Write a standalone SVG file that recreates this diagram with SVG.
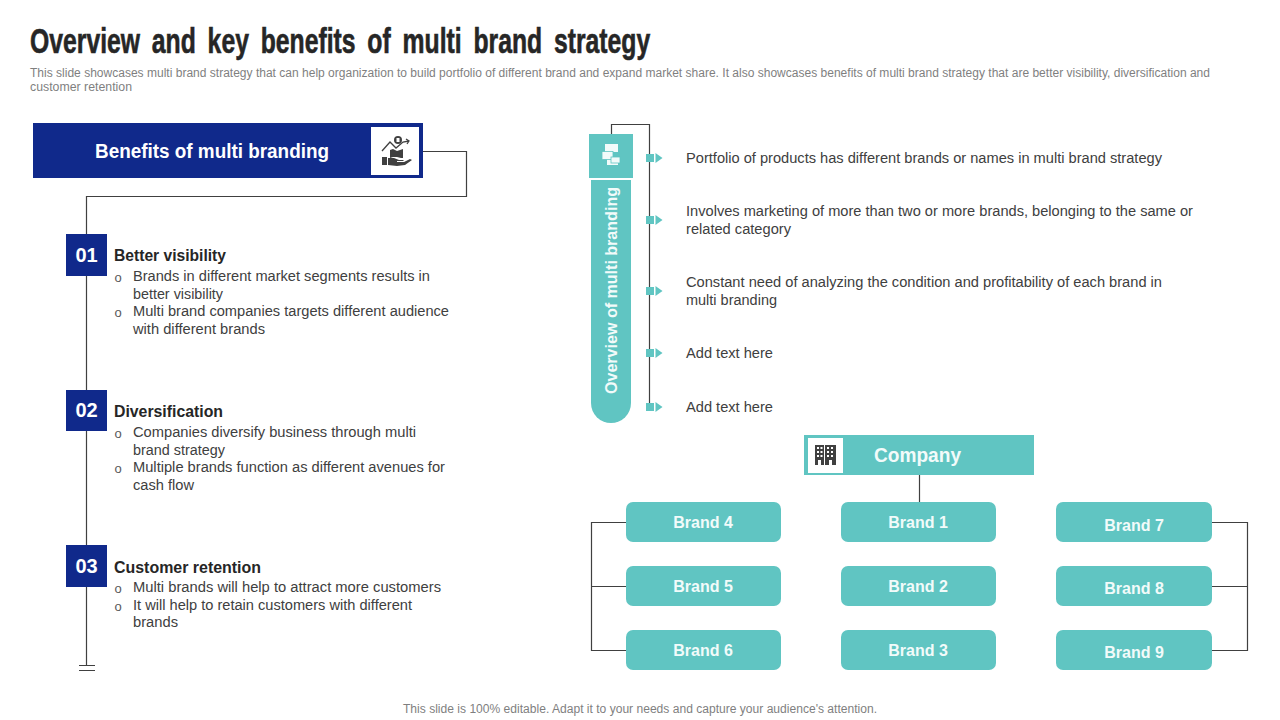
<svg xmlns="http://www.w3.org/2000/svg" width="1280" height="720" viewBox="0 0 1280 720">
<style>
text{font-family:"Liberation Sans",Arial,sans-serif}
.title{font-size:35px;font-weight:700;fill:#262626;stroke:#262626;stroke-width:.6;word-spacing:7px}
.sub{font-size:12px;fill:#7f7f7f}
.body{font-size:14.67px;fill:#404040}
.bul{font-size:13px;fill:#595959}
.head{font-size:16px;font-weight:700;fill:#262626}
.num{font-size:20px;font-weight:700;fill:#fff;text-anchor:middle}
.brand{font-size:16px;font-weight:700;fill:#f2fbfa;text-anchor:middle}
.teal{fill:#60c5c2}
.navy{fill:#10298b}
.ln{fill:none;stroke:#404040;stroke-width:1.2}
.icon{fill:#404040}
.foot{font-size:12px;fill:#7f7f7f;text-anchor:middle}
</style>
<defs>
<g id="tick"><rect x="0" y="-4" width="8" height="8" class="teal"/><path d="M9.500-5l7 5-7 5z" class="teal"/></g>
</defs>
<rect width="1280" height="720" fill="#fff"/>
<g id="header">
<text class="title" transform="translate(30 53) scale(.707 1)">Overview and key benefits of multi brand strategy</text>
<text class="sub" x="30" y="76.500" textLength="1180" lengthAdjust="spacingAndGlyphs">This slide showcases multi brand strategy that can help organization to build portfolio of different brand and expand market share. It also showcases benefits of multi brand strategy that are better visibility, diversification and</text>
<text class="sub" x="30" y="91" textLength="102" lengthAdjust="spacingAndGlyphs">customer retention</text>
</g>
<g id="connectors">
<path class="ln" d="M423 151.500H466.500V196.500H86.500V665"/>
<path class="ln" d="M79 665.500H95M79 670.500H95"/>
<path class="ln" d="M611.500 134V124.500H649.500V407"/>
<path class="ln" d="M919.500 475V502"/>
<path class="ln" d="M626 522.500H591.500V650.500H626M591.500 586.500H626"/>
<path class="ln" d="M1212 522.500H1247.500V650.500H1212M1247.500 586.500H1212"/>
</g>
<g id="benefits-header">
<rect class="navy" x="33" y="123" width="390" height="55"/>
<text x="212" y="158" font-size="20" font-weight="700" fill="#fff" text-anchor="middle" textLength="234" lengthAdjust="spacingAndGlyphs">Benefits of multi branding</text>
<rect x="371" y="127" width="48" height="48" fill="#fff"/>
<g class="icon">
<path d="M382 157h5v8h-5zM388 158h6l5 2h5l-1 1h-6v1h7l6-3 2 1-7 5-8 1-9-1z"/>
<path d="M390 150l3-1 4 2 6-2v9h-2l-4-1-4 0-3 1z"/>
<circle cx="398" cy="140" r="4"/>
<path d="M382 151l8-9 6 6 7-6 6-1M406 139l3 2-2 3" fill="none" stroke="#404040" stroke-width="1.300"/>
<path d="M396.500 138h3v4h-3z" fill="#fff"/>
</g>
</g>
<g id="item-01">
<rect class="navy" x="66" y="234" width="41" height="42"/>
<text class="num" x="86.500" y="262">01</text>
<text class="head" x="114" y="261" textLength="112" lengthAdjust="spacingAndGlyphs">Better visibility</text>
<text class="bul" x="114.500" y="282">o</text>
<text class="body" x="133" y="281" textLength="297" lengthAdjust="spacingAndGlyphs">Brands in different market segments results in</text>
<text class="body" x="133" y="299" textLength="90" lengthAdjust="spacingAndGlyphs">better visibility</text>
<text class="bul" x="114.500" y="317">o</text>
<text class="body" x="133" y="316" textLength="316" lengthAdjust="spacingAndGlyphs">Multi brand companies targets different audience</text>
<text class="body" x="133" y="334" textLength="132" lengthAdjust="spacingAndGlyphs">with different brands</text>
</g>
<g id="item-02">
<rect class="navy" x="66" y="390" width="41" height="41"/>
<text class="num" x="86.500" y="417">02</text>
<text class="head" x="114" y="417" textLength="109" lengthAdjust="spacingAndGlyphs">Diversification</text>
<text class="bul" x="114.500" y="438">o</text>
<text class="body" x="133" y="437" textLength="283" lengthAdjust="spacingAndGlyphs">Companies diversify business through multi</text>
<text class="body" x="133" y="455" textLength="92" lengthAdjust="spacingAndGlyphs">brand strategy</text>
<text class="bul" x="114.500" y="473">o</text>
<text class="body" x="133" y="472" textLength="312" lengthAdjust="spacingAndGlyphs">Multiple brands function as different avenues for</text>
<text class="body" x="133" y="490" textLength="61" lengthAdjust="spacingAndGlyphs">cash flow</text>
</g>
<g id="item-03">
<rect class="navy" x="66" y="545" width="41" height="42"/>
<text class="num" x="86.500" y="573">03</text>
<text class="head" x="114" y="573" textLength="147" lengthAdjust="spacingAndGlyphs">Customer retention</text>
<text class="bul" x="114.500" y="593">o</text>
<text class="body" x="133" y="592" textLength="308" lengthAdjust="spacingAndGlyphs">Multi brands will help to attract more customers</text>
<text class="bul" x="114.500" y="611">o</text>
<text class="body" x="133" y="610" textLength="279" lengthAdjust="spacingAndGlyphs">It will help to retain customers with different</text>
<text class="body" x="133" y="627" textLength="45" lengthAdjust="spacingAndGlyphs">brands</text>
</g>
<g id="overview-pill">
<path class="teal" d="M591 180H631V403a20 20 0 0 1-40 0z"/>
<rect class="teal" x="589" y="134" width="44" height="44"/>
<text transform="translate(617 394) rotate(-90)" font-size="16" font-weight="700" fill="#f2fbfa" textLength="207" lengthAdjust="spacingAndGlyphs">Overview of multi branding</text>
<path fill="#f2fbfa" d="M605 144h13v8h-13zM607 159h11v6h-11z"/>
<rect x="602" y="151.500" width="11" height="8" fill="#f2fbfa" stroke="#60c5c2" stroke-width=".8"/>
<rect x="611" y="157" width="9" height="6" fill="#f2fbfa" stroke="#60c5c2" stroke-width=".8"/>
</g>
<g id="overview-points">
<use href="#tick" x="646" y="158"/>
<use href="#tick" x="646" y="220"/>
<use href="#tick" x="646" y="291"/>
<use href="#tick" x="646" y="353"/>
<use href="#tick" x="646" y="407"/>
<text class="body" x="686" y="163" textLength="476" lengthAdjust="spacingAndGlyphs">Portfolio of products has different brands or names in multi brand strategy</text>
<text class="body" x="686" y="216" textLength="507" lengthAdjust="spacingAndGlyphs">Involves marketing of more than two or more brands, belonging to the same or</text>
<text class="body" x="686" y="234" textLength="105" lengthAdjust="spacingAndGlyphs">related category</text>
<text class="body" x="686" y="287" textLength="476" lengthAdjust="spacingAndGlyphs">Constant need of analyzing the condition and profitability of each brand in</text>
<text class="body" x="686" y="305" textLength="91" lengthAdjust="spacingAndGlyphs">multi branding</text>
<text class="body" x="686" y="358" textLength="87" lengthAdjust="spacingAndGlyphs">Add text here</text>
<text class="body" x="686" y="412" textLength="87" lengthAdjust="spacingAndGlyphs">Add text here</text>
</g>
<g id="company">
<rect class="teal" x="804" y="435" width="230" height="40"/>
<rect x="808" y="438" width="35" height="35" fill="#fff"/>
<path class="icon" d="M815 445h9v20h-9zM825 445h11v20h-11z"/>
<path fill="#fff" d="M817 447h2v2h-2zM820.500 447h2v2h-2zM827 447h2v2h-2zM831 447h2v2h-2zM817 451h2v2h-2zM820.500 451h2v2h-2zM827 451h2v2h-2zM831 451h2v2h-2zM817 455h2v2h-2zM820.500 455h2v2h-2zM827 455h2v2h-2zM831 455h2v2h-2zM818 460h3v5h-3zM829 460h3v5h-3z"/>
<text x="917.500" y="462" font-size="20" font-weight="700" fill="#f2fbfa" text-anchor="middle" textLength="87" lengthAdjust="spacingAndGlyphs">Company</text>
</g>
<g id="brand-4"><rect class="teal" x="626" y="502" width="155" height="40" rx="7"/><text class="brand" x="703" y="528">Brand 4</text></g>
<g id="brand-5"><rect class="teal" x="626" y="566" width="155" height="40" rx="7"/><text class="brand" x="703" y="592">Brand 5</text></g>
<g id="brand-6"><rect class="teal" x="626" y="630" width="155" height="40" rx="7"/><text class="brand" x="703" y="656">Brand 6</text></g>
<g id="brand-1"><rect class="teal" x="841" y="502" width="155" height="40" rx="7"/><text class="brand" x="918" y="528">Brand 1</text></g>
<g id="brand-2"><rect class="teal" x="841" y="566" width="155" height="40" rx="7"/><text class="brand" x="918" y="592">Brand 2</text></g>
<g id="brand-3"><rect class="teal" x="841" y="630" width="155" height="40" rx="7"/><text class="brand" x="918" y="656">Brand 3</text></g>
<g id="brand-7"><rect class="teal" x="1056" y="502" width="156" height="40" rx="7"/><text class="brand" x="1134" y="531">Brand 7</text></g>
<g id="brand-8"><rect class="teal" x="1056" y="566" width="156" height="40" rx="7"/><text class="brand" x="1134" y="594">Brand 8</text></g>
<g id="brand-9"><rect class="teal" x="1056" y="630" width="156" height="40" rx="7"/><text class="brand" x="1134" y="658">Brand 9</text></g>
<text class="foot" x="640" y="713" textLength="474" lengthAdjust="spacingAndGlyphs">This slide is 100% editable. Adapt it to your needs and capture your audience's attention.</text>
</svg>
